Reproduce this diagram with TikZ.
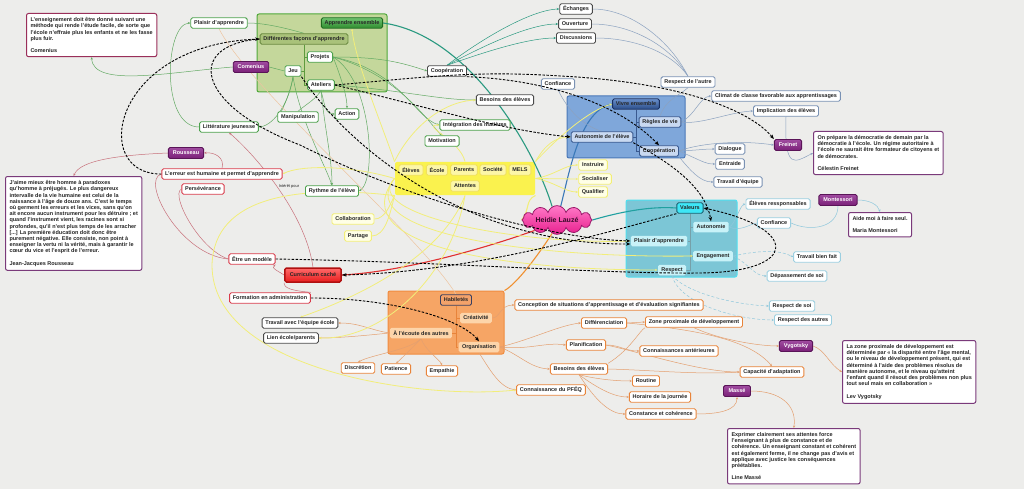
\documentclass[tikz,border=0pt]{standalone}
\usepackage{fontspec}
\setmainfont{Liberation Sans}
\usetikzlibrary{shapes.symbols,arrows.meta}
\pgfdeclarelayer{bg}\pgfdeclarelayer{mid}
\pgfsetlayers{bg,mid,main}
\definecolor{bgc}{HTML}{EDEDEB}
\definecolor{txt}{HTML}{262626}
\definecolor{grnB}{HTML}{4DA14D}\definecolor{grnG}{HTML}{4FA83A}\definecolor{grnF}{HTML}{C4D79B}
\definecolor{grnC}{HTML}{63AA63}\definecolor{grnD}{HTML}{5E9A3E}
\definecolor{aeT}{HTML}{70C470}\definecolor{aeB}{HTML}{2E8B2E}\definecolor{aeD}{HTML}{1E6B1E}
\definecolor{dfF}{HTML}{A9C27A}\definecolor{dfD}{HTML}{6A8A40}
\definecolor{darkB}{HTML}{4A4A4A}
\definecolor{bluG}{HTML}{4A78B8}\definecolor{bluF}{HTML}{7FA7DA}
\definecolor{viT}{HTML}{6A90CC}\definecolor{viB}{HTML}{2A4C88}\definecolor{viD}{HTML}{1A3060}
\definecolor{bluL}{HTML}{C9D9F1}\definecolor{bluD}{HTML}{3A5A90}\definecolor{bluB}{HTML}{7A92B4}
\definecolor{bluC}{HTML}{8CA2C0}
\definecolor{cyaG}{HTML}{4FE0F0}\definecolor{cyaF}{HTML}{7CC6D6}
\definecolor{valF}{HTML}{3EE6F6}\definecolor{valD}{HTML}{1A6070}
\definecolor{cyaL}{HTML}{C8F2F8}\definecolor{cyaB}{HTML}{9CCFE0}\definecolor{cyaC}{HTML}{8FC8DC}
\definecolor{orgG}{HTML}{F08C40}\definecolor{orgF}{HTML}{F6A565}
\definecolor{habF}{HTML}{F3A26A}\definecolor{habD}{HTML}{3A4060}
\definecolor{orgL}{HTML}{FDD5AA}\definecolor{orgB}{HTML}{E8843A}\definecolor{orgC}{HTML}{E4A070}
\definecolor{orgP}{HTML}{EDC5A0}
\definecolor{redB}{HTML}{D83A4A}\definecolor{redC}{HTML}{C8707A}
\definecolor{currT}{HTML}{FF6A6A}\definecolor{currB}{HTML}{E81E1E}\definecolor{currD}{HTML}{B01010}
\definecolor{yelG}{HTML}{FAF24E}\definecolor{yelM}{HTML}{FCF6A8}\definecolor{yelD}{HTML}{F0E060}
\definecolor{yelL}{HTML}{FFFFE6}\definecolor{yelB}{HTML}{F2EE78}\definecolor{yelC}{HTML}{F2EE7A}
\definecolor{purT}{HTML}{A04CA0}\definecolor{purB}{HTML}{7A2078}\definecolor{purD}{HTML}{5A1458}
\definecolor{quoB}{HTML}{7A3A7A}\definecolor{quoC}{HTML}{9A2F5A}
\definecolor{hlT}{HTML}{FF7AC8}\definecolor{hlB}{HTML}{E8208E}\definecolor{hlD}{HTML}{9A1A6A}\definecolor{hlTx}{HTML}{3A0A2A}
\definecolor{tealC}{HTML}{2A9A80}\definecolor{mainBlue}{HTML}{3A78B8}\definecolor{mainTeal}{HTML}{20A0A0}
\definecolor{mainRed}{HTML}{E03030}\definecolor{mainOrg}{HTML}{F09030}
\tikzset{
 nd/.style={font=\fontsize{5.5}{6.2}\selectfont\bfseries, text=txt, rounded corners=1.6pt, inner xsep=3.3pt, inner ysep=0pt, minimum height=10.5pt, line width=0.9pt, fill=white},
 gnode/.style={nd, draw=grnB},
 dnode/.style={nd, draw=darkB},
 bnode/.style={nd, draw=bluB},
 bin/.style={nd, draw=bluD, fill=bluL},
 cnode/.style={nd, draw=cyaB},
 cin/.style={nd, draw=none, fill=cyaL},
 onode/.style={nd, draw=orgB},
 oin/.style={nd, draw=none, fill=orgL},
 rnode/.style={nd, draw=redB},
 ynode/.style={nd, draw=yelB, fill=yelL},
 yin/.style={nd, draw=yelD, fill=yelM},
 pnode/.style={nd, draw=purD, top color=purT, bottom color=purB, text=white, minimum width=27pt, inner xsep=4.5pt, minimum height=11pt},
 qbox/.style={font=\fontsize{5.5}{6.2}\selectfont\bfseries, text=txt, draw=quoB, line width=1pt, fill=white, rounded corners=2pt, align=left, anchor=north west, inner sep=4pt},
 grp/.style={rounded corners=2pt, line width=1pt, inner sep=0pt},
 cn/.style={line width=0.5pt},
 yl/.style={line width=0.8pt, yelC},
 arr/.style={-{Stealth[length=2.5pt,width=2.2pt]}},
 rel/.style={line width=0.9pt, black, dash pattern=on 2.5pt off 1.5pt, -{Stealth[length=4.5pt,width=3.5pt]}},
}
\begin{document}
\begin{tikzpicture}[x=1pt,y=-1pt]
\useasboundingbox (0,0) rectangle (1024,489);
\begin{pgfonlayer}{bg}
\fill[bgc] (0,0) rectangle (1024,489);
\node[grp, draw=grnG, fill=grnF, minimum width=130pt, minimum height=78pt] (gGreen) at (322,53) {};
\node[grp, draw=bluG, fill=bluF, minimum width=118pt, minimum height=62pt] (gBlue) at (626,127) {};
\node[grp, draw=cyaG, fill=cyaF, minimum width=111pt, minimum height=77pt] (gCyan) at (681.5,238.5) {};
\node[grp, draw=orgG, fill=orgF, minimum width=116pt, minimum height=63pt] (gOrange) at (446,322.5) {};
\node[grp, draw=none, fill=yelG, minimum width=140pt, minimum height=33pt] (gYellow) at (465,178.5) {};
\end{pgfonlayer}

% centre
\node[cloud, cloud puffs=12, aspect=3.5, minimum width=70pt, minimum height=20pt, inner sep=0pt, draw=hlD, top color=hlT, bottom color=hlB, line width=0.8pt, font=\fontsize{7}{8}\selectfont\bfseries, text=hlTx] (heidie) at (557,220) {Heidie Lauzé};

% green group
\node[nd, top color=aeT, bottom color=aeB, draw=aeD] (apprEns) at (352,23) {Apprendre ensemble};
\node[nd, fill=dfF, draw=dfD] (difF) at (304,39) {Différentes façons d'apprendre};
\node[gnode] (projets) at (320,57) {Projets};
\node[gnode] (jeu) at (293,71) {Jeu};
\node[gnode] (ateliers) at (321,85) {Ateliers};
\node[pnode] (comenius) at (251,67) {Comenius};
\node[gnode] (manip) at (298,117) {Manipulation};
\node[gnode] (action) at (347,114) {Action};
\node[gnode] (litt) at (229,127) {Littérature jeunesse};
\node[gnode] (plaisirG) at (219,23) {Plaisir d'apprendre};
\node[gnode] (rythme) at (332,191) {Rythme de l'élève};
\node[gnode] (integ) at (475,125) {Intégration des matières};
\node[gnode] (motiv) at (442,141) {Motivation};
\node[dnode] (coopG) at (447,71) {Coopération};
\node[dnode] (besoinsG) at (505,100) {Besoins des élèves};
\node[dnode] (echanges) at (576,9) {Échanges};
\node[dnode] (ouverture) at (575,24) {Ouverture};
\node[dnode] (discussions) at (576,38) {Discussions};
\node[qbox, draw=quoC] (qC) at (26,13) {L'enseignement doit être donné suivant une\\méthode qui rende l'étude facile, de sorte que\\l'école n'effraie plus les enfants et ne les fasse\\plus fuir.\\[6.2pt]Comenius};

% blue group
\node[nd, top color=viT, bottom color=viB, draw=viD] (vivre) at (636,104) {Vivre ensemble};
\node[bin] (regles) at (660,122) {Règles de vie};
\node[bin] (autoE) at (602,137) {Autonomie de l'élève};
\node[bin] (coopB) at (659,151) {Coopération};
\node[bnode] (confT) at (558,84) {Confiance};
\node[bnode] (respA) at (688,82) {Respect de l'autre};
\node[bnode] (climat) at (776,96) {Climat de classe favorable aux apprentissages};
\node[bnode] (implic) at (786,111) {Implication des élèves};
\node[bnode] (dialog) at (730,149) {Dialogue};
\node[bnode] (entraide) at (730,164) {Entraide};
\node[bnode] (travEq) at (738,182) {Travail d'équipe};
\node[pnode] (freinet) at (788,145) {Freinet};
\node[qbox] (qF) at (813,131) {On prépare la démocratie de demain par la\\démocratie à l'école. Un régime autoritaire à\\l'école ne saurait être formateur de citoyens et\\de démocrates.\\[6.2pt]Célestin Freinet};

% cyan group
\node[nd, fill=valF, draw=valD] (valeurs) at (690,208) {Valeurs};
\node[cin] (autoC) at (711,227) {Autonomie};
\node[cin] (plaisirC) at (659,241) {Plaisir d'apprendre};
\node[cin] (engag) at (713,256) {Engagement};
\node[cin] (respC) at (672,270) {Respect};
\node[cnode] (elevesR) at (778,204) {Élèves ressponsables};
\node[cnode] (confC) at (774,223) {Confiance};
\node[cnode] (travBF) at (817,257) {Travail bien fait};
\node[cnode] (depass) at (797,276) {Dépassement de soi};
\node[cnode] (respSoi) at (792,306) {Respect de soi};
\node[cnode] (respAut) at (803,320) {Respect des autres};
\node[pnode] (montess) at (838,200) {Montessori};
\node[qbox] (qM) at (848,212) {Aide moi à faire seul.\\[6.2pt]Maria Montessori};

% orange group
\node[nd, fill=habF, draw=habD] (habil) at (456,300) {Habiletés};
\node[oin] (creat) at (476,318) {Créativité};
\node[oin] (ecoute) at (421,333) {À l'écoute des autres};
\node[oin] (organ) at (479,347) {Organisation};
\node[onode] (discr) at (358,368) {Discrétion};
\node[onode] (patience) at (396,369) {Patience};
\node[onode] (empathie) at (442,371) {Empathie};
\node[dnode] (travEE) at (300,323) {Travail avec l'équipe école};
\node[dnode] (lienEP) at (291,338) {Lien école/parents};
\node[onode] (concep) at (609,305) {Conception de situations d'apprentissage et d'évaluation signifiantes};
\node[onode] (diff) at (604,323) {Différenciation};
\node[onode] (zpd) at (694,322) {Zone proximale de développement};
\node[onode] (planif) at (586,345) {Planification};
\node[onode] (connAnt) at (679,351) {Connaissances antérieures};
\node[onode] (besoinsO) at (579,369) {Besoins des élèves};
\node[onode] (capAd) at (772,372) {Capacité d'adaptation};
\node[onode] (routine) at (646,381) {Routine};
\node[onode] (horaire) at (660,397) {Horaire de la journée};
\node[onode] (constance) at (661,414) {Constance et cohérence};
\node[onode] (pfeq) at (551,390) {Connaissance du PFÉQ};
\node[pnode] (masse) at (737,391) {Massé};
\node[pnode] (vygotsky) at (796,346) {Vygotsky};
\node[qbox] (qV) at (842,340) {La zone proximale de développement est\\déterminée par « la disparité entre l'âge mental,\\ou le niveau de développement présent, qui est\\déterminé à l'aide des problèmes résolus de\\manière autonome, et le niveau qu'atteint\\l'enfant quand il résout des problèmes non plus\\tout seul mais en collaboration »\\[6.2pt]Lev Vygotsky};
\node[qbox] (qMa) at (727,428) {Exprimer clairement ses attentes force\\l'enseignant à plus de constance et de\\cohérence. Un enseignant constant et cohérent\\est également ferme, il ne change pas d'avis et\\applique avec justice les conséquences\\préétablies.\\[6.2pt]Line Massé};

% red group
\node[nd, draw=currD, top color=currT, bottom color=currB, line width=1.5pt, minimum height=14pt, inner xsep=5pt] (curr) at (313,275) {Curriculum caché};
\node[rnode] (etre) at (252,259) {Être un modèle};
\node[rnode] (formation) at (270,298) {Formation en administration};
\node[rnode] (erreur) at (222,174) {L'erreur est humaine et permet d'apprendre};
\node[rnode] (persev) at (203,189) {Persévérance};
\node[pnode] (rousseau) at (186,153) {Rousseau};
\node[qbox] (qR) at (5,176) {J'aime mieux être homme à paradoxes\\qu'homme à préjugés. Le plus dangereux\\intervalle de la vie humaine est celui de la\\naissance à l'âge de douze ans. C'est le temps\\où germent les erreurs et les vices, sans qu'on\\ait encore aucun instrument pour les détruire ; et\\quand l'instrument vient, les racines sont si\\profondes, qu'il n'est plus temps de les arracher\\{}[...] La première éducation doit donc être\\purement négative. Elle consiste, non point à\\enseigner la vertu ni la vérité, mais à garantir le\\cœur du vice et l'esprit de l'erreur.\\[6.2pt]Jean-Jacques Rousseau};

% yellow group
\node[yin] (eleves) at (411,170) {Élèves};
\node[yin] (ecole) at (437,170) {École};
\node[yin] (parents) at (464,170) {Parents};
\node[yin] (societe) at (493,170) {Société};
\node[yin] (mels) at (520,170) {MELS};
\node[yin] (attentes) at (465,186) {Attentes};
\node[ynode] (instr) at (593,165) {Instruire};
\node[ynode] (social) at (595,179) {Socialiser};
\node[ynode] (qualif) at (593,192) {Qualifier};
\node[ynode] (collab) at (353,219) {Collaboration};
\node[ynode] (partage) at (358,236) {Partage};
\node[font=\fontsize{4}{4.5}\selectfont, text=txt] (interet) at (289,186) {Intérêt pour};

\begin{pgfonlayer}{mid}
% main branches
\draw[line width=1.1pt, tealC] (heidie.110) .. controls (535,150) and (470,35) .. (apprEns.east);
\draw[line width=1.1pt, mainBlue] (heidie.75) .. controls (570,170) and (580,110) .. (vivre.west);
\draw[line width=1.1pt, mainTeal] (heidie.east) .. controls (620,212) and (650,206) .. (valeurs.west);
\draw[line width=1.1pt, mainRed] (heidie.205) .. controls (480,250) and (400,272) .. (curr.east);
\draw[line width=1.1pt, mainOrg] (heidie.250) .. controls (535,260) and (515,285) .. (gOrange.north east);
\draw[line width=1.1pt, yelC] (heidie.west) .. controls (530,210) and (525,200) .. (gYellow.south east);
% green
\draw[cn,grnC] (plaisirG.east) .. controls (265,23) and (285,28) .. (difF.north);
\draw[cn,grnC,arr] (litt.west) .. controls (160,127) and (165,24) .. (plaisirG.west);
\draw[cn,grnC,arr] (comenius.west) .. controls (170,72) and (93,88) .. (qC.south);
\draw[cn,grnC] (comenius.east) -- (jeu.west);
\draw[cn,grnC,arr] (jeu.south) .. controls (290,95) and (280,115) .. (manip.west);
\draw[cn,grnC,arr] (jeu.south) .. controls (290,100) and (275,125) .. (litt.east);
\draw[cn,grnC,arr] (jeu.south) .. controls (300,120) and (325,165) .. (rythme.north);
\draw[cn,grnC] (ateliers.south) .. controls (315,100) and (305,105) .. (manip.north);
\draw[cn,grnC,arr] (ateliers.south) .. controls (325,105) and (325,114) .. (action.west);
\draw[cn,grnC,arr] (projets.east) .. controls (340,75) and (347,95) .. (action.north);
\draw[cn,grnC,arr] (ateliers.south) .. controls (325,130) and (332,160) .. (rythme.north);
\draw[cn,grnC,arr] (projets.east) .. controls (380,57) and (400,62) .. (coopG.west);
\draw[cn,grnC,arr] (projets.east) .. controls (372,80) and (377,180) .. (rythme.east);
\draw[cn,grnC,arr] (projets.east) .. controls (400,75) and (430,125) .. (motiv.north);
\draw[cn,grnC,arr] (projets.east) .. controls (400,70) and (415,118) .. (integ.west);
\draw[cn,grnC,arr] (ateliers.east) .. controls (400,90) and (440,100) .. (besoinsG.west);
\draw[cn,tealC,arr] (coopG.north) .. controls (480,40) and (530,10) .. (echanges.west);
\draw[cn,tealC,arr] (coopG.north) .. controls (485,45) and (530,24) .. (ouverture.west);
\draw[cn,tealC,arr] (coopG.north) .. controls (490,50) and (530,38) .. (discussions.west);
\draw[cn,grnD] (difF.south) |- (projets.west);
\draw[cn,grnD] (difF.south) |- (ateliers.west);
\draw[cn,grnD] (difF.south) |- (jeu.east);
% blue
\draw[cn,bluC] (regles.north) .. controls (665,100) and (680,95) .. (respA.south);
\draw[cn,bluC] (respA.north) .. controls (670,40) and (630,9) .. (echanges.east);
\draw[cn,bluC] (respA.north) .. controls (670,45) and (630,24) .. (ouverture.east);
\draw[cn,bluC] (respA.north) .. controls (670,50) and (630,38) .. (discussions.east);
\draw[cn,bluC,arr] (regles.east) .. controls (695,115) and (700,97) .. (climat.west);
\draw[cn,bluC,arr] (regles.east) .. controls (700,125) and (730,112) .. (implic.west);
\draw[cn,bluC,arr] (coopB.east) .. controls (700,150) and (705,149) .. (dialog.west);
\draw[cn,bluC,arr] (coopB.east) .. controls (700,160) and (705,164) .. (entraide.west);
\draw[cn,bluC,arr] (coopB.south east) .. controls (690,170) and (700,182) .. (travEq.west);
\draw[cn,bluC,arr] (coopB.east) .. controls (700,143) and (740,140) .. (freinet.west);
\draw[cn,bluC,arr] (implic.south) .. controls (784,172) and (795,162) .. (qF.west);
\draw[cn,bluC] (confT.south) .. controls (565,105) and (580,125) .. (autoE.north);
\draw[cn,bluD] (vivre.south) |- (regles.west);
\draw[cn,bluD] (vivre.south) |- (coopB.west);
\draw[cn,bluD] (vivre.south) |- (autoE.east);
% cyan
\draw[cn,cyaC,arr] (autoC.east) .. controls (735,225) and (740,205) .. (elevesR.west);
\draw[cn,cyaC] (autoC.east) .. controls (740,232) and (750,224) .. (confC.west);
\draw[cn,cyaC] (montess.south) .. controls (838,228) and (810,232) .. (confC.east);
\draw[cn,cyaC,arr] (montess.east) .. controls (870,200) and (878,205) .. (qM.north);
\draw[cn,cyaC,densely dashed,arr] (engag.east) .. controls (760,250) and (780,250) .. (travBF.west);
\draw[cn,cyaC,densely dashed,arr] (engag.east) .. controls (750,265) and (755,276) .. (depass.west);
\draw[cn,cyaC,densely dashed,arr] (respC.south) .. controls (690,295) and (740,305) .. (respSoi.west);
\draw[cn,cyaC,densely dashed,arr] (respC.south) .. controls (680,305) and (740,320) .. (respAut.west);
\draw[cn,valD!60] (valeurs.south) |- (autoC.west);
\draw[cn,valD!60] (valeurs.south) |- (engag.west);
\draw[cn,valD!60] (valeurs.south) |- (plaisirC.east);
\draw[cn,valD!60] (valeurs.south) |- (respC.east);
% orange
\draw[cn,orgC,arr] (creat.east) .. controls (500,318) and (500,305) .. (concep.west);
\draw[cn,orgC,arr] (organ.east) .. controls (530,340) and (560,325) .. (diff.west);
\draw[cn,orgC,arr] (organ.east) .. controls (530,350) and (545,342) .. (planif.west);
\draw[cn,orgC,arr] (organ.east) .. controls (520,355) and (530,368) .. (besoinsO.west);
\draw[cn,orgC,arr] (organ.south) .. controls (490,370) and (500,388) .. (pfeq.west);
\draw[cn,orgC,arr] (diff.east) -- (zpd.west);
\draw[cn,orgC,arr] (diff.east) .. controls (700,330) and (750,340) .. (capAd.north);
\draw[cn,orgC,arr] (planif.east) .. controls (620,345) and (625,351) .. (connAnt.west);
\draw[cn,orgC,arr] (planif.east) .. controls (640,352) and (700,372) .. (capAd.west);
\draw[cn,orgC] (besoinsO.east) .. controls (650,370) and (700,375) .. (capAd.west);
\draw[cn,orgC] (besoinsO.north east) .. controls (630,350) and (640,330) .. (zpd.south west);
\draw[cn,orgC,arr] (besoinsO.south) .. controls (600,380) and (620,381) .. (routine.west);
\draw[cn,orgC,arr] (besoinsO.south) .. controls (600,390) and (615,397) .. (horaire.west);
\draw[cn,orgC,arr] (besoinsO.south) .. controls (595,400) and (610,414) .. (constance.west);
\draw[cn,orgC,arr] (zpd.south) .. controls (720,340) and (760,346) .. (vygotsky.west);
\draw[cn,orgC,arr] (vygotsky.east) .. controls (825,350) and (830,365) .. (qV.west);
\draw[cn,orgC,arr] (constance.east) .. controls (720,414) and (737,410) .. (masse.south);
\draw[cn,orgC,arr] (masse.east) .. controls (780,391) and (797,405) .. (qMa.north);
\draw[cn,orgC,arr] (ecoute.south) .. controls (410,350) and (370,355) .. (discr.north);
\draw[cn,orgC,arr] (ecoute.south) .. controls (410,350) and (400,360) .. (patience.north);
\draw[cn,orgC,arr] (ecoute.south) .. controls (425,350) and (440,360) .. (empathie.north);
\draw[cn,orgC,arr] (ecoute.west) .. controls (370,330) and (360,323) .. (travEE.east);
\draw[cn,orgC,arr] (ecoute.west) .. controls (370,335) and (340,338) .. (lienEP.east);
\draw[cn,orgP] (habil.north) .. controls (420,235) and (250,90) .. (plaisirG.south);
\draw[cn,orgB] (habil.south) |- (creat.west);
\draw[cn,orgB] (habil.south) |- (organ.west);
\draw[cn,orgB] (habil.south) |- (ecoute.east);
% red
\draw[cn,redC,arr] (curr.west) .. controls (280,272) and (270,268) .. (etre.south east);
\draw[cn,redC] (curr.south west) .. controls (285,285) and (282,290) .. (formation.north east);
\draw[cn,redC,arr] (curr.north) .. controls (305,210) and (250,150) .. (litt.south);
\draw[cn,redC,arr] (erreur.north) .. controls (225,158) and (215,152) .. (rousseau.east);
\draw[cn,redC,arr] (rousseau.west) .. controls (120,155) and (80,160) .. (qR.north);
\draw[cn,redC] (etre.west) .. controls (180,255) and (140,180) .. (erreur.west);
\draw[cn,redC] (etre.west) .. controls (200,250) and (170,195) .. (persev.west);
% yellow
\draw[yl,arr] (gYellow.north west) .. controls (380,120) and (355,60) .. (apprEns.south);
\draw[yl] (gYellow.south west) .. controls (390,205) and (385,219) .. (collab.east);
\draw[yl] (gYellow.south west) .. controls (390,215) and (385,236) .. (partage.east);
\draw[yl,arr] (gYellow.east) .. controls (555,175) and (565,165) .. (instr.west);
\draw[yl,arr] (gYellow.east) -- (social.west);
\draw[yl,arr] (gYellow.east) .. controls (555,182) and (565,192) .. (qualif.west);
\draw[yl,arr] (gYellow.north east) .. controls (560,135) and (590,110) .. (vivre.west);
\draw[yl,arr] (gYellow.north east) .. controls (545,145) and (555,137) .. (autoE.west);
\draw[yl,arr] (gYellow.north) .. controls (460,140) and (420,125) .. (integ.west);
\draw[yl,arr] (gYellow.north west) .. controls (410,130) and (440,102) .. (besoinsG.west);
\draw[yl,arr] (gYellow.west) .. controls (350,165) and (300,165) .. (erreur.east);
\draw[yl,arr] (gYellow.south west) .. controls (300,185) and (214,195) .. (212,265) .. controls (212,370) and (420,400) .. (pfeq.west);
\draw[yl,arr] (gYellow.south) .. controls (440,260) and (350,300) .. (travEE.north);
\draw[yl,arr] (gYellow.south) .. controls (450,280) and (380,340) .. (lienEP.east);
\draw[yl,arr] (gYellow.west) .. controls (360,215) and (520,245) .. (plaisirC.west);
\draw[yl,arr] (gYellow.west) .. controls (350,235) and (540,258) .. (engag.west);
\draw[yl,arr] (gYellow.west) .. controls (340,250) and (520,270) .. (respC.west);
\end{pgfonlayer}

% dashed relationships
\draw[rel] (erreur.west) .. controls (90,175) and (110,45) .. (difF.west);
\draw[rel] (difF.west) .. controls (185,45) and (195,105) .. (300,145) .. controls (400,195) and (540,238) .. (plaisirC.west);
\draw[rel] (jeu.south east) .. controls (350,150) and (470,245) .. ([yshift=-3pt]plaisirC.west);
\draw[rel] (ateliers.east) .. controls (420,78) and (470,70) .. (560,76) .. controls (680,82) and (750,110) .. (freinet.north west);
\draw[rel] (coopG.south east) .. controls (550,80) and (620,105) .. (coopB.north);
\draw[rel] (ateliers.east) .. controls (420,105) and (500,130) .. (autoE.west);
\draw[rel] (autoE.south east) .. controls (665,160) and (705,185) .. (autoC.north);
\draw[rel] (etre.east) .. controls (450,262) and (600,274) .. (700,273) .. controls (800,272) and (800,228) .. (valeurs.east);
\draw[rel] (valeurs.south west) .. controls (620,228) and (480,272) .. (curr.east);
\draw[rel] (formation.east) .. controls (390,298) and (460,318) .. (organ.north);
\end{tikzpicture}
\end{document}
